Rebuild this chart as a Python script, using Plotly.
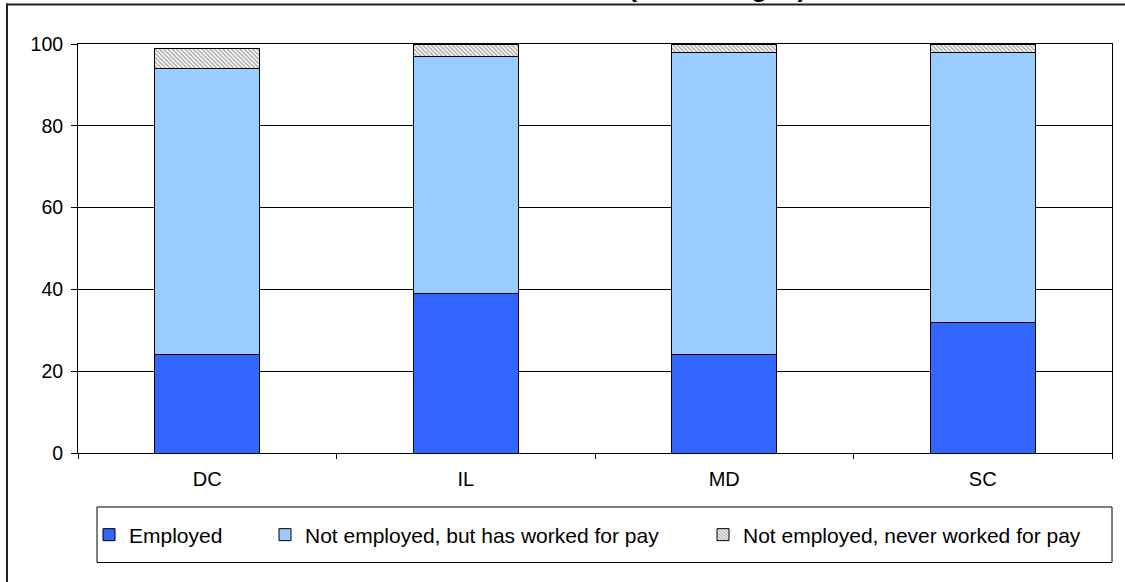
import plotly.graph_objects as go

# ---- data ----
states = ["DC", "IL", "MD", "SC"]
employed = [24, 39, 24, 32]
not_employed_worked = [70, 58, 74, 66]
never_worked = [5, 3, 2, 2]
series_names = [
    "Employed",
    "Not employed, but has worked for pay",
    "Not employed, never worked for pay",
]
y_ticks = [0, 20, 40, 60, 80, 100]
title_fragment = "(Percentages)"

# ---- geometry helpers (pixel -> paper) ----
W, H = 1125, 582
L, R, T, B = 78, 1112, 44, 453


def px(x):
    return (x - L) / (R - L)


def py(y):
    return (B - y) / (B - T)


FONT = "Liberation Sans, Arial, sans-serif"

fig = go.Figure()
fig.add_trace(go.Bar(
    x=states, y=employed, name=series_names[0], legend="legend",
    marker=dict(color="#3366FF", line=dict(color="#000000", width=1)),
))
fig.add_trace(go.Bar(
    x=states, y=not_employed_worked, name=series_names[1], legend="legend2",
    marker=dict(color="#99CCFF", line=dict(color="#000000", width=1)),
))
fig.add_trace(go.Bar(
    x=states, y=never_worked, name=series_names[2], legend="legend3",
    marker=dict(color="#FFFFFF", line=dict(color="#000000", width=1),
                pattern=dict(shape="\\", size=3, solidity=0.5,
                             fgcolor="#555555", bgcolor="#FFFFFF", fillmode="overlay")),
))

leg_common = dict(orientation="h", yanchor="middle", xanchor="left",
                  bgcolor="rgba(0,0,0,0)", borderwidth=0, visible=True,
                  font=dict(family=FONT, size=21, color="#000000"))

fig.update_layout(
    width=W, height=H,
    margin=dict(l=L, r=W - R, t=T, b=H - B),
    paper_bgcolor="#FFFFFF", plot_bgcolor="#FFFFFF",
    barmode="stack", bargap=0.594,
    showlegend=True,
    font=dict(family=FONT, color="#000000"),
    legend=dict(x=px(129 - 40), y=py(535), **leg_common),
    legend2=dict(x=px(305 - 40), y=py(535), **leg_common),
    legend3=dict(x=px(743 - 40), y=py(535), **leg_common),
    xaxis=dict(
        type="category", showgrid=False, showline=True, linecolor="#000000", linewidth=1,
        mirror=True, ticks="outside", tickson="boundaries", ticklen=5,
        tickcolor="#000000", tickfont=dict(family=FONT, size=20, color="#000000"),
        ticklabelstandoff=8,
    ),
    yaxis=dict(
        range=[0, 100], tickvals=y_ticks, showgrid=True, gridcolor="#000000", gridwidth=1,
        showline=True, linecolor="#000000", linewidth=1, mirror=True,
        ticks="outside", ticklen=6, tickcolor="#000000",
        tickfont=dict(family=FONT, size=19.5, color="#000000"),
        ticklabelstandoff=4, zeroline=False,
    ),
    shapes=[
        # outer chart frame: left and top edges (right/bottom lie outside the picture)
        dict(type="line", xref="paper", yref="paper",
             x0=px(7), x1=px(7), y0=py(582), y1=py(3.5),
             line=dict(color="#222222", width=2), layer="above"),
        dict(type="line", xref="paper", yref="paper",
             x0=px(6), x1=px(1125), y0=py(4.5), y1=py(4.5),
             line=dict(color="#222222", width=2), layer="above"),
        # legend box
        dict(type="rect", xref="paper", yref="paper",
             x0=px(97), x1=px(1112), y0=py(562.5), y1=py(507),
             line=dict(color="#000000", width=1), fillcolor="rgba(0,0,0,0)", layer="above"),
    ],
    annotations=[
        dict(text="<b>" + title_fragment + "</b>", xref="paper", yref="paper",
             x=px(626), y=py(4.0), xanchor="left", yanchor="bottom", showarrow=False,
             font=dict(family=FONT, size=27, color="#000000")),
    ],
)

fig.write_html(
    "out.html",
    config={"displayModeBar": False},
    post_script=(
        "document.documentElement.style.overflow='hidden';"
        "document.body.style.margin='0px';document.body.style.overflow='hidden';"
    ),
)
